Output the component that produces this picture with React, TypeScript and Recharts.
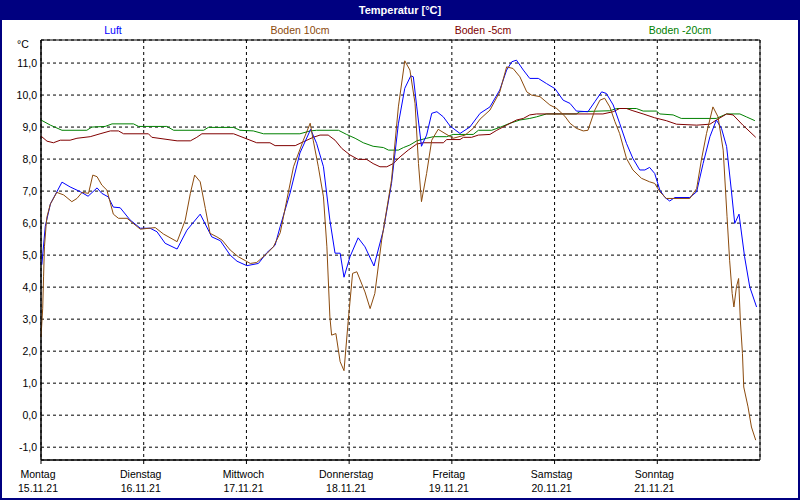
import { LineChart, Line, XAxis, YAxis, CartesianGrid, ReferenceArea } from "recharts"

// hours since Monday 00:00, values in °C
const luftHours = [0.2, 1.0, 2.2, 4.9, 6.8, 9.2, 11.0, 13.1, 14.2, 15.7, 16.9, 18.5, 20.8, 23.2, 25.5, 27.1, 29.0, 31.8, 34.1, 37.2, 39.9, 41.9, 44.2, 45.8, 48.1, 50.8, 52.8, 54.7, 55.9, 58.2, 60.5, 63.0, 64.4, 66.0, 67.5, 68.7, 69.9, 70.8, 72.2, 74.1, 75.7, 77.8, 80.0, 81.9, 83.5, 85.0, 86.4, 87.0, 87.8, 88.9, 90.1, 91.3, 92.5, 94.0, 95.6, 97.9, 100.2, 102.6, 104.9, 107.2, 108.8, 110.0, 111.1, 112.7, 114.2, 116.2, 118.1, 120.1, 122.0, 123.6, 125.1, 127.8, 129.4, 131.0, 132.1, 133.7, 135.2, 136.8, 138.3, 139.9, 141.1, 142.2, 143.4, 144.6, 145.8, 146.9, 148.1, 151.6, 153.2, 154.7, 156.3, 157.8, 159.0, 160.2, 161.3, 162.1, 163.1, 164.4, 165.6, 167.2]
const luftValues = [4.7, 5.9, 6.6, 7.28, 7.13, 6.98, 6.84, 7.1, 6.93, 6.82, 6.5, 6.48, 6.1, 5.84, 5.84, 5.73, 5.37, 5.19, 5.78, 6.28, 5.57, 5.45, 5.0, 4.81, 4.67, 4.74, 5.08, 5.31, 5.9, 6.94, 8.19, 8.93, 8.49, 7.76, 6.09, 5.06, 5.06, 4.31, 4.95, 5.54, 5.26, 4.66, 5.78, 7.24, 9.1, 10.21, 10.6, 10.57, 9.63, 8.4, 8.75, 9.43, 9.48, 9.32, 9.03, 8.8, 9.0, 9.43, 9.63, 10.16, 10.78, 11.04, 11.09, 10.78, 10.52, 10.52, 10.36, 10.2, 9.84, 9.74, 9.5, 9.48, 9.79, 10.1, 10.05, 9.69, 9.12, 8.49, 8.02, 7.66, 7.66, 7.74, 7.55, 7.03, 6.8, 6.69, 6.8, 6.8, 6.98, 7.86, 8.7, 9.22, 8.96, 8.39, 7.03, 5.99, 6.28, 4.95, 4.01, 3.38]

const boden10Hours = [0, 0.4, 0.6, 0.8, 1.2, 1.4, 2.2, 3.7, 5.3, 7.2, 8.4, 9.6, 11.1, 12.1, 13.1, 14.2, 15.4, 16.9, 18.1, 20.1, 23.2, 26.7, 28.6, 31.8, 33.7, 34.9, 35.9, 37.2, 38.4, 39.5, 41.1, 42.3, 44.2, 46.1, 48.9, 50.4, 52.8, 54.3, 55.9, 59.0, 61.3, 62.9, 63.6, 64.8, 66.0, 66.8, 67.5, 67.9, 68.9, 69.9, 70.8, 71.8, 72.8, 73.8, 75.7, 76.9, 78.0, 79.6, 81.9, 83.5, 85.0, 86.2, 87.4, 88.2, 88.9, 90.1, 91.3, 92.8, 94.4, 96.3, 99.1, 101.0, 102.6, 104.9, 107.2, 108.8, 110.3, 111.9, 113.5, 114.6, 116.6, 118.9, 120.5, 122.4, 123.6, 125.1, 126.7, 127.8, 129.4, 130.6, 131.7, 132.9, 134.1, 135.2, 136.8, 138.3, 140.3, 142.2, 143.4, 144.6, 146.1, 151.6, 153.2, 154.3, 155.5, 157.0, 158.2, 159.4, 160.3, 160.9, 161.5, 161.9, 162.5, 163.0, 163.4, 163.9, 164.2, 165.2, 166.0, 167.0]
const boden10Values = [2.45, 3.34, 4.32, 5.26, 5.94, 6.2, 6.6, 6.96, 6.88, 6.67, 6.77, 6.96, 6.93, 7.5, 7.45, 7.19, 7.03, 6.28, 6.15, 6.15, 5.81, 5.86, 5.66, 5.42, 6.09, 6.93, 7.5, 7.29, 6.46, 5.68, 5.57, 5.47, 5.16, 4.95, 4.74, 4.77, 5.05, 5.26, 5.7, 7.76, 8.59, 9.12, 8.59, 7.76, 6.82, 5.26, 3.07, 2.5, 2.55, 1.67, 1.39, 2.97, 4.43, 4.48, 3.85, 3.33, 3.8, 5.47, 7.34, 9.63, 11.07, 10.78, 9.74, 7.86, 6.67, 7.55, 8.59, 8.93, 8.8, 8.65, 8.75, 8.96, 9.25, 9.53, 10.1, 10.88, 10.83, 10.57, 10.1, 10.0, 9.95, 9.69, 9.58, 9.34, 9.12, 8.96, 8.88, 8.9, 9.53, 9.84, 9.9, 9.63, 9.17, 8.8, 8.02, 7.66, 7.4, 7.29, 7.24, 6.98, 6.77, 6.77, 7.08, 7.97, 8.8, 9.63, 9.32, 8.28, 6.2, 4.84, 3.8, 3.38, 4.01, 4.27, 2.97, 1.93, 0.88, 0.26, -0.37, -0.78]

const boden5Hours = [0, 1.4, 2.9, 4.5, 6.8, 8.4, 11.5, 13.8, 16.2, 18.1, 19.3, 25.1, 25.9, 31.8, 34.9, 36.4, 37.6, 45.0, 48.1, 50.4, 53.5, 54.7, 59.4, 61.3, 63.6, 65.2, 67.1, 68.7, 70.3, 72.2, 74.1, 76.1, 77.6, 79.2, 80.8, 82.3, 83.9, 85.8, 87.8, 89.3, 94.0, 94.8, 97.9, 98.7, 100.6, 102.2, 104.9, 106.5, 108.8, 111.1, 112.7, 114.2, 115.8, 131.3, 133.7, 135.2, 136.8, 138.3, 140.7, 143.4, 146.1, 148.5, 153.2, 156.3, 157.8, 160.2, 161.7, 164.0, 167.0]
const boden5Values = [8.72, 8.56, 8.51, 8.59, 8.59, 8.65, 8.7, 8.79, 8.88, 8.88, 8.79, 8.79, 8.68, 8.57, 8.57, 8.68, 8.79, 8.79, 8.63, 8.51, 8.51, 8.42, 8.42, 8.54, 8.68, 8.75, 8.75, 8.59, 8.33, 8.13, 7.99, 7.99, 7.86, 7.76, 7.76, 7.86, 8.07, 8.28, 8.47, 8.51, 8.51, 8.61, 8.61, 8.68, 8.68, 8.75, 8.77, 8.9, 9.06, 9.22, 9.27, 9.38, 9.41, 9.41, 9.48, 9.58, 9.58, 9.51, 9.41, 9.29, 9.2, 9.09, 9.06, 9.09, 9.22, 9.41, 9.38, 9.06, 8.68]

const boden20Hours = [0, 2.2, 4.9, 10.7, 11.9, 15.0, 16.6, 21.6, 22.8, 29.4, 31.0, 38.0, 39.1, 45.0, 46.5, 49.6, 52.0, 60.5, 62.9, 64.4, 69.5, 71.4, 73.4, 75.3, 77.6, 80.0, 81.2, 83.5, 84.7, 86.2, 87.8, 90.1, 91.7, 94.8, 96.3, 101.0, 102.2, 105.3, 107.2, 109.6, 111.9, 114.2, 115.8, 118.1, 125.1, 125.9, 132.9, 134.5, 139.1, 140.7, 143.8, 144.6, 147.7, 149.6, 157.8, 160.2, 163.3, 164.8, 166.8]
const boden20Values = [9.22, 9.06, 8.9, 8.9, 9.0, 9.02, 9.1, 9.1, 9.02, 9.02, 8.9, 8.9, 8.99, 8.99, 8.9, 8.88, 8.79, 8.79, 8.88, 8.9, 8.9, 8.77, 8.65, 8.51, 8.4, 8.36, 8.28, 8.28, 8.36, 8.44, 8.57, 8.65, 8.7, 8.7, 8.77, 8.77, 8.9, 8.9, 8.99, 9.12, 9.22, 9.27, 9.32, 9.41, 9.41, 9.48, 9.51, 9.58, 9.58, 9.5, 9.5, 9.41, 9.38, 9.27, 9.27, 9.41, 9.41, 9.32, 9.2]

const dayHours = [0, 24, 48, 72, 96, 120, 144]
const dayNames = ["Montag", "Dienstag", "Mittwoch", "Donnerstag", "Freitag", "Samstag", "Sonntag"]
const dayDates = ["15.11.21", "16.11.21", "17.11.21", "18.11.21", "19.11.21", "20.11.21", "21.11.21"]
const yTicks = [-1, 0, 1, 2, 3, 4, 5, 6, 7, 8, 9, 10, 11]
const yMin = -1.4
const yMax = 11.72
const xMax = 168

const series = [
  { name: "Boden -20cm", hours: boden20Hours, values: boden20Values, color: "#008000", legendX: 680 },
  { name: "Boden -5cm", hours: boden5Hours, values: boden5Values, color: "#800000", legendX: 483 },
  { name: "Luft", hours: luftHours, values: luftValues, color: "#0000ff", legendX: 113 },
  { name: "Boden 10cm", hours: boden10Hours, values: boden10Values, color: "#8b4a0c", legendX: 300 },
]

const toRows = (hours: number[], values: number[]) => hours.map((h, i) => ({ h, v: values[i] }))

const font = "'Liberation Sans', Arial, sans-serif"

function DayTick(props: any) {
  const { x, y, payload } = props
  const i = dayHours.indexOf(payload.value)
  return (
    <g fontSize={10.5} fill="#000">
      <text x={x - 3} y={y + 12} textAnchor="middle">{dayNames[i]}</text>
      <text x={x - 3} y={y + 26} textAnchor="middle">{dayDates[i]}</text>
    </g>
  )
}

export default function App() {
  return (
    <div style={{ position: "absolute", left: 0, top: 0, width: 800, height: 500, background: "#fff", fontFamily: font }}>
      <LineChart width={800} height={500} margin={{ top: 40, right: 40, bottom: 0, left: 0 }}>
        <CartesianGrid stroke="#000" strokeDasharray="3 3" />
        <XAxis
          dataKey="h"
          type="number"
          domain={[0, xMax]}
          ticks={dayHours}
          height={40}
          tickSize={4}
          tickLine={{ stroke: "#000" }}
          axisLine={{ stroke: "#000" }}
          tick={<DayTick />}
          allowDuplicatedCategory={false}
        />
        <YAxis
          type="number"
          domain={[yMin, yMax]}
          ticks={yTicks}
          width={41}
          tickSize={0}
          tickMargin={4}
          tickLine={false}
          axisLine={{ stroke: "#000" }}
          allowDataOverflow
          tick={{ fill: "#000", fontSize: 10.5 }}
          tickFormatter={(v: number) => v.toFixed(1).replace(".", ",")}
        />
        <ReferenceArea x1={0} x2={xMax} y1={yMin} y2={yMax} fill="none" stroke="#000" strokeWidth={1} ifOverflow="visible" />
        {series.map((s) => (
          <Line
            key={s.name}
            data={toRows(s.hours, s.values)}
            dataKey="v"
            type="linear"
            stroke={s.color}
            strokeWidth={1}
            dot={false}
            activeDot={false}
            isAnimationActive={false}
          />
        ))}
      </LineChart>

      <div style={{ position: "absolute", left: 0, top: 0, width: 800, height: 20, background: "#000080", color: "#fff", fontWeight: "bold", fontSize: 11, lineHeight: "20px", textAlign: "center" }}>
        Temperatur [°C]
      </div>
      {series.map((s) => (
        <div key={s.name} style={{ position: "absolute", top: 24, left: s.legendX - 60, width: 120, textAlign: "center", fontSize: 10.5, color: s.color }}>
          {s.name}
        </div>
      ))}
      <div style={{ position: "absolute", left: 17, top: 38, fontSize: 10.5 }}>°C</div>
      <div style={{ position: "absolute", left: 0, top: 0, width: 800, height: 500, boxSizing: "border-box", border: "2px solid #000080", pointerEvents: "none" }} />
    </div>
  )
}
